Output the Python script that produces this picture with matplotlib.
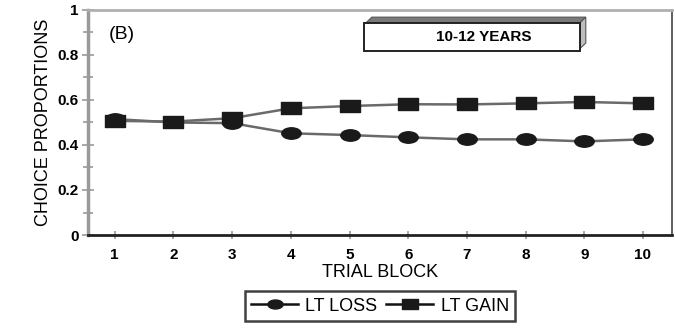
import numpy as np
import matplotlib
matplotlib.use("Agg")
import matplotlib.pyplot as plt
import matplotlib.patches as mpatches
from matplotlib.path import Path
from matplotlib.transforms import Affine2D

plt.rcParams["font.family"] = ["Liberation Sans", "DejaVu Sans"]

# data
trial_block = [1, 2, 3, 4, 5, 6, 7, 8, 9, 10]
lt_loss = [0.515, 0.500, 0.497, 0.452, 0.444, 0.434, 0.425, 0.425, 0.416, 0.425]
lt_gain = [0.507, 0.504, 0.519, 0.563, 0.573, 0.581, 0.580, 0.585, 0.591, 0.585]
y_ticks = [0, 0.2, 0.4, 0.6, 0.8, 1]
y_ticklabels = ["0", "0.2", "0.4", "0.6", "0.8", "1"]

# wide markers (original picture is stretched horizontally)
ellipse = Path.unit_circle().transformed(Affine2D().scale(1.7, 1.0))
rect = Path([(-1.55, -1), (1.55, -1), (1.55, 1), (-1.55, 1), (-1.55, -1)],
            [Path.MOVETO, Path.LINETO, Path.LINETO, Path.LINETO, Path.CLOSEPOLY])

fig = plt.figure(figsize=(6.75, 3.31), dpi=100)
ax = fig.add_axes([0.130, 0.290, 0.866, 0.680])

ax.plot(trial_block, lt_loss, color="#6a6a6a", lw=1.8, marker=ellipse,
        ms=14, mfc="#1a1a1a", mec="#1a1a1a", label="LT LOSS", zorder=3)
ax.plot(trial_block, lt_gain, color="#6a6a6a", lw=1.8, marker=rect,
        ms=14, mfc="#1a1a1a", mec="#1a1a1a", label="LT GAIN", zorder=4)

ax.set_xlim(0.54, 10.5)
ax.set_ylim(0, 1)
ax.set_xticks(trial_block)
ax.set_yticks(y_ticks)
ax.set_yticklabels(y_ticklabels)
ax.set_yticks(np.arange(0.1, 1.0, 0.2), minor=True)
ax.tick_params(axis="both", which="both", direction="inout", color="#9a9a9a",
               labelsize=11, width=1.2)
ax.tick_params(axis="y", which="major", length=9, pad=2)
ax.tick_params(axis="y", which="minor", length=7)
ax.tick_params(axis="x", which="major", length=6, pad=6)
for lbl in ax.get_xticklabels() + ax.get_yticklabels():
    lbl.set_fontweight("bold")

ax.spines["left"].set_color("#9a9a9a")
ax.spines["left"].set_linewidth(2.5)
ax.spines["top"].set_color("#b0b0b0")
ax.spines["top"].set_linewidth(2.0)
ax.spines["bottom"].set_color("#222222")
ax.spines["bottom"].set_linewidth(2.0)
ax.spines["right"].set_color("#444444")
ax.spines["right"].set_linewidth(1.2)

ax.set_ylabel("CHOICE PROPORTIONS", fontsize=13, labelpad=4)
ax.set_xlabel("TRIAL BLOCK", fontsize=13, labelpad=2)

ax.text(0.036, 0.89, "(B)", transform=ax.transAxes, fontsize=14,
        ha="left", va="center")

# 3-D looking label box
bx0, by0, bw, bh = 0.472, 0.818, 0.370, 0.125
ax.add_patch(mpatches.Polygon(
    [(bx0 + 0.004, by0 + bh), (bx0 + bw, by0 + bh), (bx0 + bw + 0.010, by0 + bh + 0.025),
     (bx0 + 0.014, by0 + bh + 0.025)],
    closed=True, transform=ax.transAxes, facecolor="#7a7a7a", edgecolor="#555555", lw=0.8))
ax.add_patch(mpatches.Polygon(
    [(bx0 + bw, by0 + 0.01), (bx0 + bw + 0.010, by0 + 0.035), (bx0 + bw + 0.010, by0 + bh + 0.025),
     (bx0 + bw, by0 + bh)],
    closed=True, transform=ax.transAxes, facecolor="#bdbdbd", edgecolor="#555555", lw=0.8))
ax.add_patch(mpatches.Rectangle((bx0, by0), bw, bh, transform=ax.transAxes,
                                facecolor="white", edgecolor="#222222", lw=1.4))
ax.text(bx0 + bw / 2 + 0.02, by0 + bh / 2, "10-12 YEARS", transform=ax.transAxes,
        fontsize=11, fontweight="bold", ha="center", va="center")

leg = fig.legend(loc="center", bbox_to_anchor=(0.563, 0.075), ncol=2, fontsize=13,
                 frameon=True, fancybox=False, edgecolor="#111111",
                 handlelength=2.6, columnspacing=0.5, handletextpad=0.4,
                 borderpad=0.35)
leg.get_frame().set_linewidth(1.8)
for h in leg.legend_handles:
    h.set_color("#111111")
    h.set_markersize(11)

fig.savefig("out.png", dpi=100, facecolor="white")
